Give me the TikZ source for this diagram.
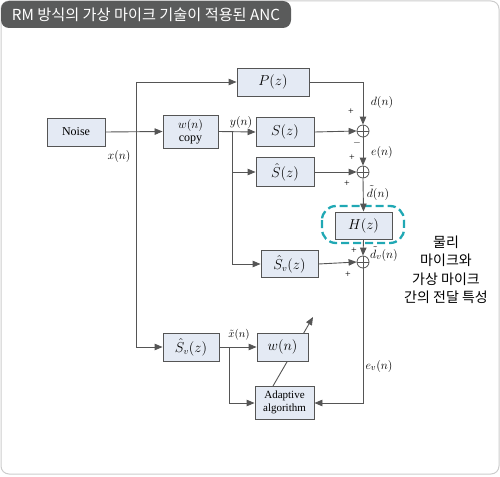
\documentclass[tikz,border=0pt]{standalone}
\usepackage{fontspec}
\setmainfont{Liberation Serif}
\newfontfamily\kr{Noto Sans CJK KR}
\usetikzlibrary{arrows.meta}
\definecolor{boxfill}{HTML}{E4EAF4}
\definecolor{boxline}{HTML}{555555}
\definecolor{titlebg}{HTML}{5A5B5B}
\definecolor{teal}{HTML}{20A8B4}
\definecolor{framec}{HTML}{CCCCCC}
\tikzset{
  blk/.style={draw=boxline, fill=boxfill, line width=0.9pt, inner sep=0pt, align=center, font=\fontsize{13.5}{14}\selectfont},
  sumnode/.style={draw=boxline, circle, minimum size=12pt, inner sep=0pt, line width=0.8pt,
    path picture={\draw[boxline, line width=0.6pt] (path picture bounding box.north) -- (path picture bounding box.south)
      (path picture bounding box.west) -- (path picture bounding box.east);}},
  wire/.style={draw=boxline, line width=0.9pt},
  arr/.style={wire, -{Triangle[length=8pt,width=6.5pt]}},
  lbl/.style={font=\fontsize{12.5}{13}\selectfont, inner sep=0pt},
  sgn/.style={font=\fontsize{10}{10}\selectfont, inner sep=0pt},
}
\begin{document}
\begin{tikzpicture}[x=1pt,y=-1pt]
\useasboundingbox (0,0) rectangle (500,476);
\draw[framec, line width=1pt, rounded corners=8pt] (1,1) rectangle (499,474);
\fill[titlebg, rounded corners=8pt] (1,1) rectangle (291,28);
\node[text=white, font=\kr\fontsize{15.2}{16}\selectfont] (title) at (146,15) {RM 방식의 가상 마이크 기술이 적용된 ANC};

% blocks
\node[blk, minimum width=58pt, minimum height=28pt, font=\fontsize{12}{13}\selectfont] (noise) at (76,132) {Noise};
\node[blk, minimum width=55pt, minimum height=33pt, font=\fontsize{12}{13}\selectfont] (wc) at (190.5,131.5) {$w(n)$\\copy};
\node[blk, minimum width=72pt, minimum height=28pt] (P) at (273,82) {$P(z)$};
\node[blk, minimum width=58pt, minimum height=29pt] (S) at (285,132) {$S(z)$};
\node[blk, minimum width=58pt, minimum height=29pt] (Sh) at (285,172) {$\hat{S}(z)$};
\node[blk, minimum width=57pt, minimum height=27pt] (H) at (363.5,225.5) {$H(z)$};
\node[blk, minimum width=57pt, minimum height=27pt] (Sv) at (289.5,264) {$\hat{S}_v(z)$};
\node[blk, minimum width=56pt, minimum height=28pt] (Sv2) at (191,347) {$\hat{S}_v(z)$};
\node[blk, minimum width=59pt, minimum height=33pt, font=\fontsize{11}{13}\selectfont] (ad) at (284.5,402.5) {Adaptive\\algorithm};

% dashed highlight
\draw[teal, line width=2.3pt, dash pattern=on 8pt off 4pt, rounded corners=14pt] (322,206) rectangle (404,243);

% sums
\node[sumnode] (s1) at (363,131) {};
\node[sumnode] (s2) at (363,172) {};
\node[sumnode] (s3) at (363,262) {};

% coordinates
\coordinate (xt) at (136,82);
\coordinate (xb) at (136,347);
\coordinate (yj) at (232,132);
\coordinate (yb) at (232,264);
\coordinate (pc) at (363,82);
\coordinate (ec) at (363,403);
\coordinate (xtj) at (229,347);
\coordinate (xtb) at (229,403);
\coordinate (tip) at (313,317);
\coordinate (adtop) at (273,386);

% adaptation arrow (behind w box)
\draw[arr] (adtop) -- (tip);
\node[blk, minimum width=51pt, minimum height=28pt] (w) at (282.5,347) {$w(n)$};

% wires
\draw[arr] (noise.east) -- (wc.west);
\draw[wire] (xt) -- (xb);
\draw[arr] (xt) -- (P.west);
\draw[arr] (xb) -- (Sv2.west);
\draw[arr] (wc.east) -- (S.west);
\draw[wire] (yj) -- (yb);
\draw[arr] (yj |- Sh.west) -- (Sh.west);
\draw[arr] (yb) -- (Sv.west);
\draw[arr] (P.east) -- (pc) -- (s1.north);
\draw[arr] (S.east) -- (s1.west);
\draw[arr] (s1.south) -- (s2.north);
\draw[arr] (Sh.east) -- (s2.west);
\draw[arr] (s2.south) -- (H.north);
\draw[arr] (H.south) -- (s3.north);
\draw[arr] (Sv.east) -- (s3.west);
\draw[arr] (s3.south) -- (ec) -- (ad.east |- ec);
\draw[arr] (Sv2.east) -- (w.west);
\draw[arr] (xtj) -- (xtb) -- (ad.west |- xtb);

% labels
\node[lbl] (lx) at (119,156) {$x(n)$};
\node[lbl] (ly) at (241,122) {$y(n)$};
\node[lbl] (ld) at (382,103) {$d(n)$};
\node[lbl] (le) at (382,152) {$e(n)$};
\node[lbl, font=\fontsize{11.5}{12}\selectfont] (ldt) at (378,193) {$\tilde{d}(n)$};
\node[lbl] (ldv) at (384,254) {$\tilde{d}_v(n)$};
\node[lbl] (lev) at (379,366) {$e_v(n)$};
\node[lbl, font=\fontsize{11}{12}\selectfont] (lxt) at (239,335) {$\tilde{x}(n)$};
\node[sgn] (p1) at (351,112) {+};
\node[sgn] (m1) at (357,143) {$-$};
\node[sgn] (p2) at (352,158) {+};
\node[sgn] (p3) at (347,184) {+};
\node[sgn] (p4) at (354,251) {+};
\node[sgn] (p5) at (348,275) {+};
\node[font=\kr\fontsize{14}{18.5}\selectfont, align=center, inner sep=0pt] (kr) at (446,270) {물리\\마이크와\\가상 마이크\\간의 전달 특성};
\end{tikzpicture}
\end{document}
